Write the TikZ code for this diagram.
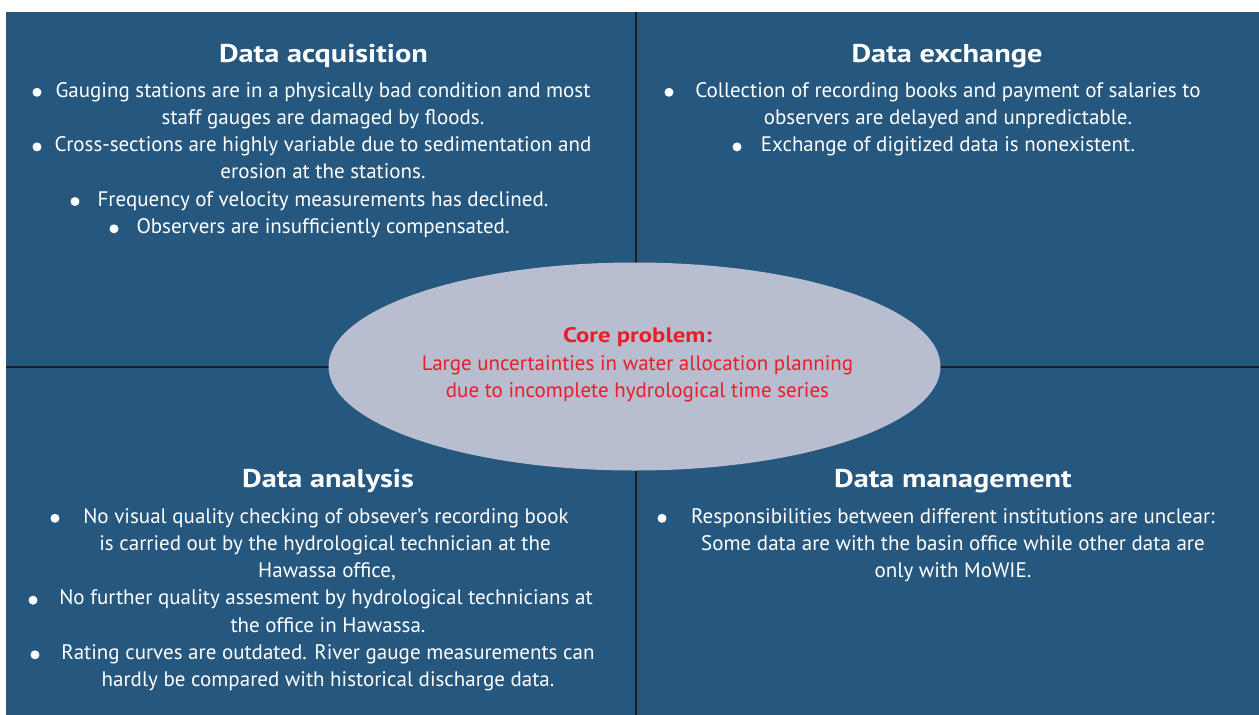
\documentclass[tikz,border=0pt]{standalone}
\usepackage{fontspec}
\setmainfont{PT Sans}
% the bold face is set a little wider than PT Sans Bold
\newfontfamily\headfont{PT Sans Bold}[FakeStretch=1.18]
\usetikzlibrary{shapes.geometric}
\definecolor{panel}{RGB}{38,87,127}
\definecolor{corefill}{RGB}{184,189,208}
\definecolor{corered}{RGB}{232,30,40}
\definecolor{divider}{RGB}{30,30,34}
\begin{document}
\begin{tikzpicture}[x=1pt,y=-1pt,
  body/.style={anchor=base,inner sep=0pt,text=white,font=\fontsize{21}{27}\selectfont},
  heading/.style={anchor=base,inner sep=0pt,text=white,font=\fontsize{25.7}{30}\headfont},
  corehead/.style={anchor=base,inner sep=0pt,text=corered,font=\fontsize{21}{27}\headfont},
  coretext/.style={anchor=base,inner sep=0pt,text=corered,font=\fontsize{21}{27}\selectfont},
  dot/.style={circle,fill=white,inner sep=0pt,minimum size=9pt},
  rule/.style={draw=divider,line width=2pt}]
\useasboundingbox (0,0) rectangle (1259,715);
% panel background
\fill[panel] (6,12) rectangle (1259,715);
% quadrant dividers
\coordinate (vt) at (636,12);
\coordinate (vb) at (636,715);
\coordinate (hl) at (6,367);
\coordinate (hr) at (1259,367);
\draw[rule] (vt) -- (vb);
\draw[rule] (hl) -- (hr);

% central problem
\node[ellipse,fill=corefill,minimum width=612pt,minimum height=208pt,inner sep=0pt] (core) at (634.5,366.5) {};
\node[corehead] (c1) at (637.5,342.3) {Core problem:};
\node[coretext] (c2) at (637.5,370) {Large uncertainties in water allocation planning};
\node[coretext] (c3) at (637.5,397.3) {due to incomplete hydrological time series};

% top left: data acquisition
\node[heading] (aT) at (323.5,62) {Data acquisition};
\node[body] (a1) at (323,97) {Gauging stations are in a physically bad condition and most};
\node[body] (a2) at (323,124.3) {staff gauges are damaged by floods.};
\node[body] (a3) at (323,151.6) {Cross-sections are highly variable due to sedimentation and};
\node[body] (a4) at (323,178.9) {erosion at the stations.};
\node[body] (a5) at (323,206.2) {Frequency of velocity measurements has declined.};
\node[body] (a6) at (323,233.5) {Observers are insufficiently compensated.};
\node[dot] (ad1) at (37,92.3) {};
\node[dot] (ad2) at (37,146.9) {};
\node[dot] (ad3) at (75,201.5) {};
\node[dot] (ad4) at (114,228.8) {};

% top right: data exchange
\node[heading] (eT) at (947,62) {Data exchange};
\node[body] (e1) at (948,97) {Collection of recording books and payment of salaries to};
\node[body] (e2) at (948,124.3) {observers are delayed and unpredictable.};
\node[body] (e3) at (948,151.6) {Exchange of digitized data is nonexistent.};
\node[dot] (ed1) at (669,92.3) {};
\node[dot] (ed2) at (737,146.9) {};

% bottom left: data analysis
\node[heading] (nT) at (328,487) {Data analysis};
\node[body] (n1) at (326,523) {No visual quality checking of obsever’s recording book};
\node[body] (n2) at (325,550.3) {is carried out by the hydrological technician at the};
\node[body] (n3) at (327,577.6) {Hawassa office,};
\node[body] (n4) at (326,604.9) {No further quality assesment by hydrological technicians at};
\node[body] (n5) at (328,632.2) {the office in Hawassa.};
\node[body] (n6) at (328,659.5) {Rating curves are outdated. River gauge measurements can};
\node[body] (n7) at (328,686.8) {hardly be compared with historical discharge data.};
\node[dot] (nd1) at (55,518.3) {};
\node[dot] (nd2) at (33,600.2) {};
\node[dot] (nd3) at (35,654.8) {};

% bottom right: data management
\node[heading] (mT) at (953,487) {Data management};
\node[body] (m1) at (953,523) {Responsibilities between different institutions are unclear:};
\node[body] (m2) at (953,550.3) {Some data are with the basin office while other data are};
\node[body] (m3) at (953,577.6) {only with MoWIE.};
\node[dot] (md1) at (662,518.3) {};
\end{tikzpicture}
\end{document}
